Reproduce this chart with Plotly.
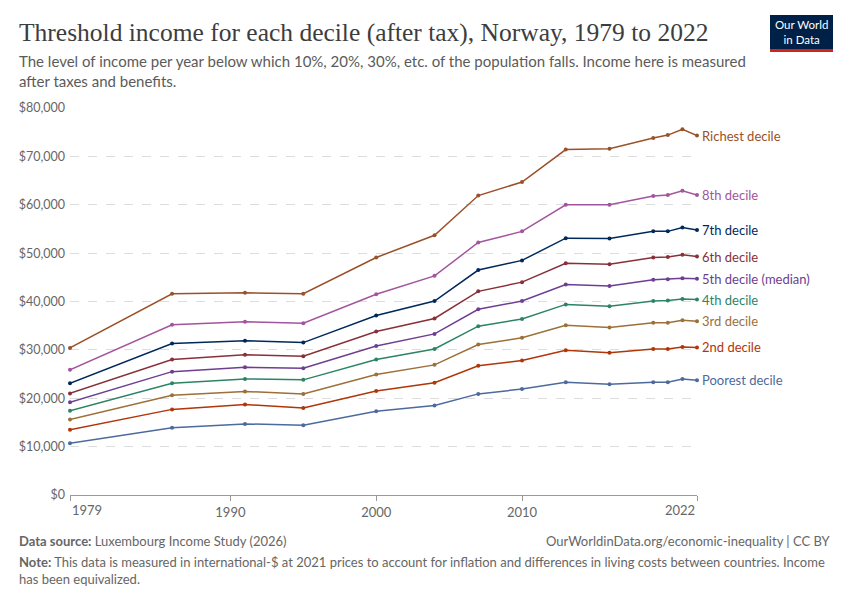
import plotly.graph_objects as go

years = [1979, 1986, 1991, 1995, 2000, 2004, 2007, 2010, 2013, 2016, 2019, 2020, 2021, 2022]

poorest = [10700, 13900, 14700, 14400, 17300, 18500, 20900, 21900, 23300, 22900, 23300, 23300, 24000, 23700]
d2 = [13500, 17700, 18700, 18000, 21500, 23200, 26700, 27800, 29900, 29400, 30200, 30200, 30600, 30500]
d3 = [15600, 20600, 21400, 20900, 24900, 26900, 31100, 32500, 35100, 34600, 35600, 35600, 36100, 35900]
d4 = [17400, 23100, 24000, 23800, 28000, 30200, 34900, 36400, 39400, 39000, 40100, 40200, 40500, 40400]
d5 = [19150, 25500, 26400, 26200, 30800, 33300, 38400, 40100, 43500, 43200, 44500, 44600, 44800, 44700]
d6 = [21000, 28000, 29000, 28700, 33800, 36500, 42100, 44000, 47900, 47700, 49100, 49200, 49650, 49300]
d7 = [23100, 31300, 31900, 31500, 37100, 40100, 46500, 48500, 53100, 53000, 54500, 54500, 55300, 54800]
d8 = [25900, 35200, 35800, 35500, 41500, 45300, 52200, 54500, 60000, 60000, 61800, 62000, 62900, 62000]
richest = [30400, 41600, 41800, 41600, 49100, 53700, 61900, 64700, 71400, 71600, 73800, 74400, 75600, 74300]

series_names = ["Richest decile", "8th decile", "7th decile", "6th decile", "5th decile (median)",
                "4th decile", "3rd decile", "2nd decile", "Poorest decile"]
series_values = [richest, d8, d7, d6, d5, d4, d3, d2, poorest]
colors = ["#9A5129", "#A2559C", "#00295B", "#883039", "#6D3E91",
          "#2C8465", "#9C7038", "#B13507", "#4C6A9C"]

x_tickvals = [1979, 1990, 2000, 2010, 2022]
x_ticktext = ["", "1990", "2000", "2010", ""]
y_tickvals = [0, 10000, 20000, 30000, 40000, 50000, 60000, 70000, 80000]
y_ticktext = ["$0", "$10,000", "$20,000", "$30,000", "$40,000", "$50,000", "$60,000", "$70,000", "$80,000"]

L, R, T, B = 70, 697, 108, 495
PW, PH = R - L, B - T


def px(x):
    return (x - L) / PW


def py(y):
    return (B - y) / PH


fig = go.Figure()
for name, vals, col in zip(series_names, series_values, colors):
    fig.add_trace(go.Scatter(
        x=years, y=vals, name=name, mode="lines+markers",
        line=dict(color=col, width=1.5),
        marker=dict(color=col, size=4),
        cliponaxis=False, showlegend=False,
    ))
    fig.add_annotation(x=years[-1], y=vals[-1], text=name, showarrow=False,
                       xanchor="left", xshift=3, yanchor="middle",
                       font=dict(family="Lato", size=13, color=col))

fig.update_layout(
    width=850, height=600,
    paper_bgcolor="white", plot_bgcolor="white",
    margin=dict(l=L, r=850 - R, t=T, b=600 - B),
    font=dict(family="Lato", color="#666666"),
    xaxis=dict(range=[1979, 2022], tickvals=x_tickvals, ticktext=x_ticktext, showgrid=False,
               showline=True, linecolor="#999999", linewidth=1,
               ticks="outside", ticklen=5, tickcolor="#999999",
               tickfont=dict(size=13, color="#666666"), zeroline=False),
    yaxis=dict(range=[0, 80000], tickvals=y_tickvals, ticktext=y_ticktext,
               showgrid=True, gridcolor="#dddddd", griddash="dash", gridwidth=1,
               zeroline=False, showline=False, ticks="", ticklabelstandoff=4,
               tickfont=dict(size=12.5, color="#666666")),
)

# Edge x tick labels (anchored inward, as in the original)
fig.add_annotation(xref="x", yref="paper", x=x_tickvals[0], y=py(510), text=str(x_tickvals[0]),
                   showarrow=False, xanchor="left", yanchor="middle",
                   font=dict(family="Lato", size=13, color="#666666"))
fig.add_annotation(xref="x", yref="paper", x=x_tickvals[-1], y=py(510), text=str(x_tickvals[-1]),
                   showarrow=False, xanchor="right", yanchor="middle",
                   font=dict(family="Lato", size=13, color="#666666"))

# Title and subtitle
fig.add_annotation(xref="paper", yref="paper", x=px(17), y=py(32),
                   text="Threshold income for each decile (after tax), Norway, 1979 to 2022",
                   showarrow=False, xanchor="left", yanchor="middle",
                   font=dict(family="Liberation Serif", size=25.5, color="#3d3d3d"))
fig.add_annotation(xref="paper", yref="paper", x=px(17), y=py(50),
                   text="The level of income per year below which 10%, 20%, 30%, etc. of the population falls. Income here is measured<br>after taxes and benefits.",
                   showarrow=False, xanchor="left", yanchor="top", align="left",
                   font=dict(family="Lato", size=15, color="#5b5b5b"))

# Logo
fig.add_shape(type="rect", xref="paper", yref="paper",
              x0=px(770), x1=px(833), y0=py(49), y1=py(15),
              fillcolor="#002147", line=dict(width=0))
fig.add_shape(type="rect", xref="paper", yref="paper",
              x0=px(770), x1=px(833), y0=py(52), y1=py(49),
              fillcolor="#CE261E", line=dict(width=0))
fig.add_annotation(xref="paper", yref="paper", x=px(801.5), y=py(32),
                   text="Our World<br>in Data", showarrow=False, xanchor="center", yanchor="middle",
                   font=dict(family="Lato", size=11.5, color="white"))

# Footer
fig.add_annotation(xref="paper", yref="paper", x=px(17), y=py(541),
                   text="<b>Data source:</b> Luxembourg Income Study (2026)",
                   showarrow=False, xanchor="left", yanchor="middle",
                   font=dict(family="Lato", size=13, color="#666666"))
fig.add_annotation(xref="paper", yref="paper", x=px(833), y=py(541),
                   text="OurWorldinData.org/economic-inequality | CC BY",
                   showarrow=False, xanchor="right", yanchor="middle",
                   font=dict(family="Lato", size=13, color="#666666"))
fig.add_annotation(xref="paper", yref="paper", x=px(17), y=py(552),
                   text="<b>Note:</b> This data is measured in international-$ at 2021 prices to account for inflation and differences in living costs between countries. Income<br>has been equivalized.",
                   showarrow=False, xanchor="left", yanchor="top", align="left",
                   font=dict(family="Lato", size=13, color="#666666"))

fig.write_html("out.html", config={"displayModeBar": False},
               post_script="document.body.style.margin='0';")
